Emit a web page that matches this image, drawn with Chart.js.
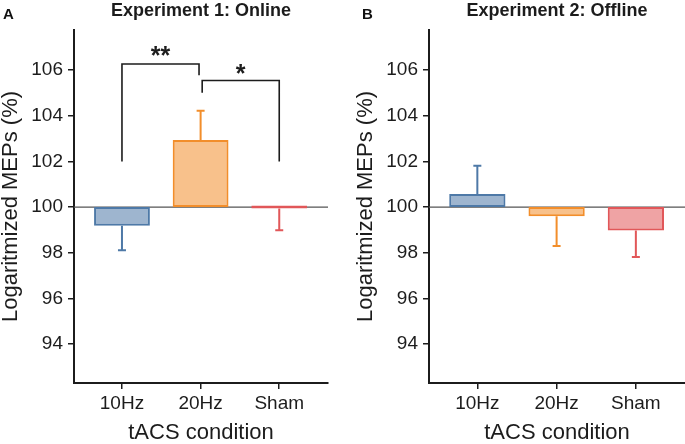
<!DOCTYPE html>
<html>
<head>
<meta charset="utf-8">
<script src="https://cdn.jsdelivr.net/npm/chart.js@4.4.1/dist/chart.umd.min.js"></script>
<style>
    body { margin: 0; background: #fff; font-family: "Liberation Sans", Arial, sans-serif; }
    #wrap { position: relative; width: 685px; height: 444px; overflow: hidden; }
    .panel { position: absolute; top: 0; }
    .tag { position: absolute; top: 5px; font-weight: bold; font-size: 15px; color: #111; }
</style>
</head>
<body>
<div id="wrap">
    <div class="panel" style="left:0"><canvas id="chartA" width="330" height="444"></canvas></div>
    <div class="panel" style="left:355px"><canvas id="chartB" width="330" height="444"></canvas></div>
    <div class="tag" style="left:3px">A</div>
    <div class="tag" style="left:362px">B</div>
</div>

<script>
// data
const categories = ['10Hz', '20Hz', 'Sham'];
const yTicks = [94, 96, 98, 100, 102, 104, 106];
const baseline = 100;

const onlineMeans = [99.18, 102.94, 99.94];
const onlineSem = [1.07, 1.28, 0.95];
const offlineMeans = [100.57, 99.6, 98.98];
const offlineSem = [1.24, 1.3, 1.17];

// significance brackets (experiment 1)
const bracketStars = ['**', '*'];
const bracketFrom = [0, 1.02];
const bracketTo = [0.98, 2];
const bracketLegFrom = [102, 105.0];
const bracketLegTo = [105.77, 102];
const bracketTop = [106.26, 105.54];
const bracketStarY = [106.8, 106.03];

const lineColors = ['#4e79a7', '#f28e2b', '#e15759'];
const fillColors = ['rgba(78,121,167,0.55)', 'rgba(242,142,43,0.55)', 'rgba(225,87,89,0.55)'];
const ink = '#1c1c1c';
const fontFamily = '"Liberation Sans", Arial, sans-serif';

// thin line at 100 across the plot
const baselinePlugin = {
    id: 'baselineLine',
    beforeDatasetsDraw(chart) {
        const { ctx, chartArea, scales } = chart;
        const y = scales.y.getPixelForValue(baseline);
        ctx.save();
        ctx.strokeStyle = '#555';
        ctx.lineWidth = 1.2;
        ctx.beginPath();
        ctx.moveTo(chartArea.left, y);
        ctx.lineTo(chartArea.right, y);
        ctx.stroke();
        ctx.restore();
    }
};

// one-sided error bars, pointing away from 100
const errorBarPlugin = {
    id: 'errorBars',
    afterDatasetsDraw(chart, args, opts) {
        const { ctx, scales } = chart;
        const means = opts.means, sem = opts.sem;
        ctx.save();
        ctx.lineWidth = 2;
        means.forEach((m, i) => {
            const dir = m >= baseline ? 1 : -1;
            const x = scales.x.getPixelForValue(i);
            const y0 = scales.y.getPixelForValue(m);
            const y1 = scales.y.getPixelForValue(m + dir * sem[i]);
            ctx.strokeStyle = lineColors[i];
            ctx.beginPath();
            ctx.moveTo(x, y0);
            ctx.lineTo(x, y1);
            ctx.moveTo(x - 4, y1);
            ctx.lineTo(x + 4, y1);
            ctx.stroke();
        });
        ctx.restore();
    }
};

const bracketPlugin = {
    id: 'brackets',
    afterDatasetsDraw(chart, args, opts) {
        if (!opts.show) return;
        const { ctx, scales } = chart;
        const px = v => scales.x.getPixelForValue(v);
        const py = v => scales.y.getPixelForValue(v);
        ctx.save();
        ctx.strokeStyle = ink;
        ctx.lineWidth = 1.6;
        ctx.fillStyle = ink;
        ctx.font = 'bold 25px ' + fontFamily;
        ctx.textAlign = 'center';
        ctx.textBaseline = 'middle';
        bracketStars.forEach((s, i) => {
            ctx.beginPath();
            ctx.moveTo(px(bracketFrom[i]), py(bracketLegFrom[i]));
            ctx.lineTo(px(bracketFrom[i]), py(bracketTop[i]));
            ctx.lineTo(px(bracketTo[i]), py(bracketTop[i]));
            ctx.lineTo(px(bracketTo[i]), py(bracketLegTo[i]));
            ctx.stroke();
            const mid = (bracketFrom[i] + bracketTo[i]) / 2;
            ctx.fillText(s, px(mid), py(bracketStarY[i]) + 5.5);
        });
        ctx.restore();
    }
};

function makePanel(id, title, means, sem, showBrackets, padRight) {
    return new Chart(document.getElementById(id), {
        type: 'bar',
        data: {
            datasets: [{
                data: means.map((m, i) => ({ x: i, y: [baseline, m] })),
                backgroundColor: fillColors,
                borderColor: lineColors,
                borderWidth: 2,
                borderSkipped: false,
                minBarLength: 3,
                barPercentage: 0.71,
                categoryPercentage: 1
            }]
        },
        options: {
            responsive: false,
            animation: false,
            layout: { padding: { left: 0, right: padRight, top: 0, bottom: 0 } },
            plugins: {
                legend: { display: false },
                tooltip: { enabled: false },
                title: {
                    display: true,
                    text: title,
                    fullSize: false,
                    color: ink,
                    font: { family: fontFamily, size: 18, weight: 'bold', lineHeight: 1.2 },
                    padding: { top: 0, bottom: 8.4 }
                },
                errorBars: { means: means, sem: sem },
                brackets: { show: showBrackets }
            },
            scales: {
                x: {
                    type: 'linear',
                    min: -0.61,
                    max: 2.62,
                    offset: false,
                    afterBuildTicks: scale => { scale.ticks = categories.map((c, i) => ({ value: i })); },
                    afterFit: scale => { scale.height = 61; },
                    ticks: {
                        callback: v => categories[v],
                        color: ink,
                        font: { family: fontFamily, size: 19 },
                        padding: 3,
                        maxRotation: 0
                    },
                    grid: { drawOnChartArea: false, offset: false, tickLength: 6, color: ink, lineWidth: 1.5 },
                    border: { color: ink, width: 2 },
                    title: {
                        display: true,
                        text: 'tACS condition',
                        color: ink,
                        font: { family: fontFamily, size: 22, lineHeight: 1 },
                        padding: 0
                    }
                },
                y: {
                    min: 92.3,
                    max: 107.75,
                    afterBuildTicks: scale => { scale.ticks = yTicks.map(v => ({ value: v })); },
                    afterFit: scale => { scale.width = 74; },
                    ticks: {
                        color: ink,
                        font: { family: fontFamily, size: 19 },
                        padding: 5
                    },
                    grid: { drawOnChartArea: false, tickLength: 6, color: ink, lineWidth: 1.5 },
                    border: { color: ink, width: 2 },
                    title: {
                        display: true,
                        text: 'Logaritmized MEPs (%)',
                        color: ink,
                        font: { family: fontFamily, size: 22, lineHeight: 1 },
                        padding: 0
                    }
                }
            }
        },
        plugins: [baselinePlugin, errorBarPlugin, bracketPlugin]
    });
}

makePanel('chartA', 'Experiment 1: Online', onlineMeans, onlineSem, true, 2);
makePanel('chartB', 'Experiment 2: Offline', offlineMeans, offlineSem, false, 0);
</script>
</body>
</html>
